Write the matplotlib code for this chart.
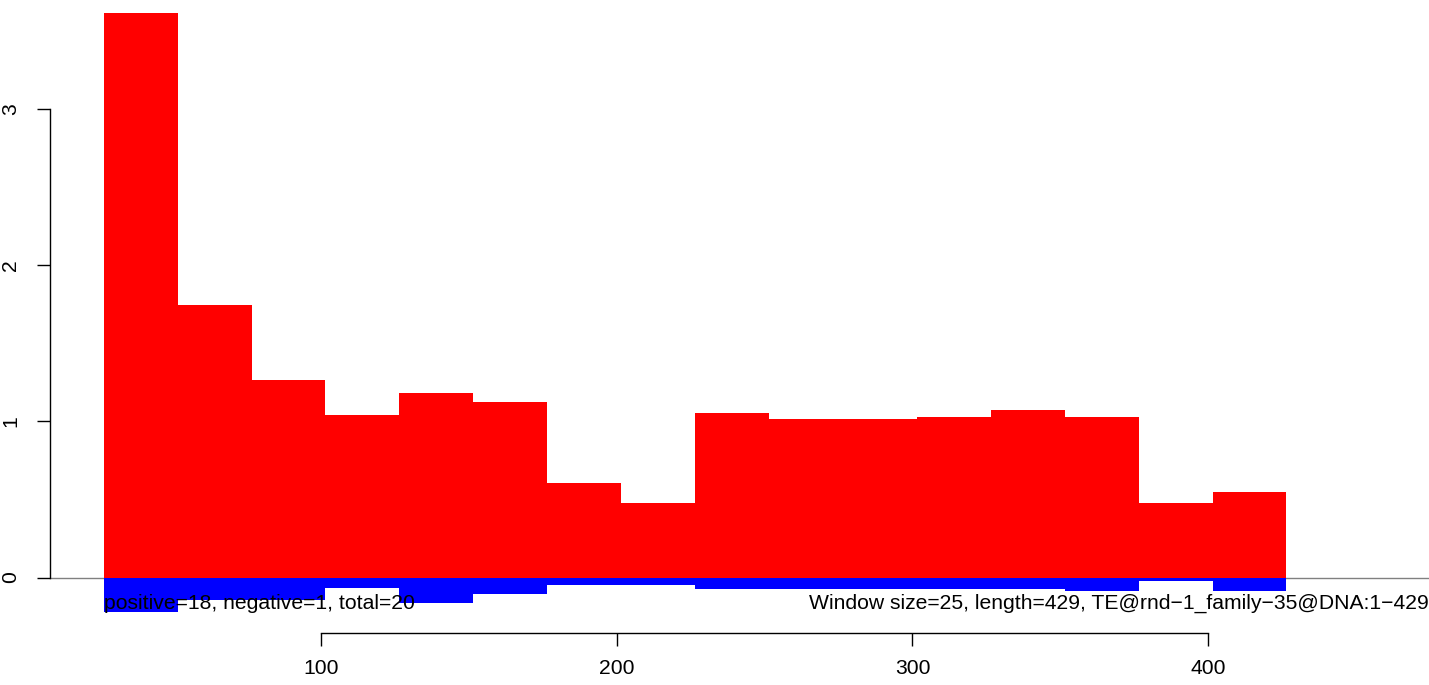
import matplotlib
matplotlib.use("Agg")
import matplotlib.pyplot as plt

# window starts (size 25) and the per-window plus / minus strand values
window_start = [26, 51, 76, 101, 126, 151, 176, 201, 226, 251, 276, 301, 326, 351, 376, 401]
plus_vals = [3.613, 1.743, 1.264, 1.040, 1.180, 1.123, 0.605, 0.479,
             1.053, 1.014, 1.014, 1.027, 1.072, 1.027, 0.479, 0.547]
minus_vals = [-0.221, -0.144, -0.144, -0.070, -0.165, -0.106, -0.048, -0.048,
              -0.074, -0.074, -0.074, -0.074, -0.074, -0.084, -0.020, -0.084]
window_size = 25
x_ticks = [100, 200, 300, 400]
y_ticks = [0, 1, 2, 3]
left_note = "positive=18, negative=1, total=20"
right_note = "Window size=25, length=429, TE@rnd\u22121_family\u221235@DNA:1\u2212429"

plt.rcParams['font.family'] = ['Liberation Sans', 'DejaVu Sans']

fig = plt.figure(figsize=(14.29, 6.85), dpi=100)
ax = fig.add_axes([50 / 1429, 52 / 685, 1379 / 1429, 633 / 685])

lefts = [s + 0.5 for s in window_start]
ax.bar(lefts, plus_vals, width=window_size, align='edge', color='#FF0000', linewidth=0)
ax.bar(lefts, minus_vals, width=window_size, align='edge', color='#0000FF', linewidth=0)
ax.axhline(0, color='#808080', linewidth=1.0, zorder=0.5)

ax.set_xlim(8.34, 474.7)
ax.set_ylim(-0.355, 3.695)

ax.text(lefts[0], -0.165, left_note, ha='left', va='center', fontsize=15.2)
ax.text(474.7, -0.165, right_note, ha='right', va='center', fontsize=15.2)

for side in ['top', 'right']:
    ax.spines[side].set_visible(False)
ax.spines['left'].set_bounds(y_ticks[0], y_ticks[-1])
ax.spines['bottom'].set_bounds(x_ticks[0], x_ticks[-1])
for side in ['left', 'bottom']:
    ax.spines[side].set_linewidth(1.0)

ax.set_xticks(x_ticks)
ax.set_yticks(y_ticks)
ax.set_yticklabels([str(v) for v in y_ticks], rotation=90, va='center')
ax.tick_params(axis='both', direction='out', length=9.5, width=1.0, labelsize=15.2)
ax.tick_params(axis='x', pad=9)
ax.tick_params(axis='y', pad=12)
ax.patch.set_visible(False)

fig.savefig("out.png", dpi=100)
